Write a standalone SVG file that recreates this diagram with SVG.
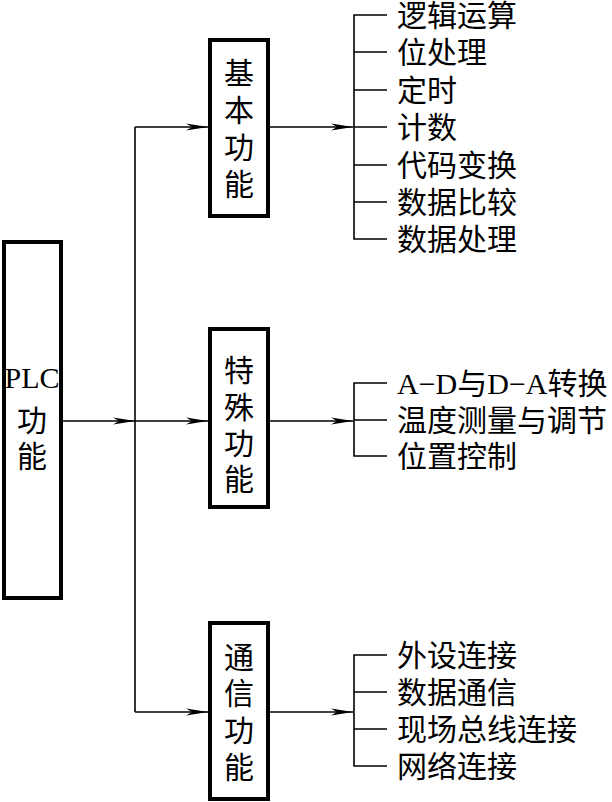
<svg xmlns="http://www.w3.org/2000/svg" width="612" height="802" viewBox="0 0 612 802">
<defs>
<style>
.box{fill:#fff;stroke:#000;stroke-width:4}
.ln{fill:none;stroke:#000;stroke-width:1.6}
.t{font-family:"Liberation Serif","Noto Sans CJK SC",serif;font-size:30px;fill:#000}
.c{text-anchor:middle}
</style>
<marker id="ar" markerUnits="userSpaceOnUse" markerWidth="24" markerHeight="10" refX="22" refY="4" orient="auto">
<path d="M0,0.5 L22,4 L0,7.5 L6,4 Z" fill="#000"/>
</marker>
</defs>
<rect width="612" height="802" fill="#fff"/>
<g id="connectors">
<line class="ln" x1="61" y1="421" x2="135" y2="421" marker-end="url(#ar)"/>
<line class="ln" x1="135" y1="127" x2="135" y2="712"/>
<line class="ln" x1="135" y1="127" x2="208" y2="127" marker-end="url(#ar)"/>
<line class="ln" x1="135" y1="421" x2="208" y2="421" marker-end="url(#ar)"/>
<line class="ln" x1="135" y1="712" x2="208" y2="712" marker-end="url(#ar)"/>
<line class="ln" x1="268" y1="127" x2="353" y2="127" marker-end="url(#ar)"/>
<line class="ln" x1="268" y1="421" x2="353" y2="421" marker-end="url(#ar)"/>
<line class="ln" x1="268" y1="712" x2="353" y2="712" marker-end="url(#ar)"/>
<path class="ln" d="M387,15 H354 V239 H387 M354,52 H387 M354,90 H387 M354,127 H387 M354,165 H387 M354,202 H387"/>
<path class="ln" d="M387,383 H354 V456 H387 M354,420 H387"/>
<path class="ln" d="M387,655 H354 V766 H387 M354,692 H387 M354,729 H387"/>
</g>
<g id="plc">
<rect class="box" x="4" y="242" width="57" height="356"/>
<text class="t c" x="32" y="388" font-size="31">PLC</text>
<text class="t c" x="32" y="431">功</text>
<text class="t c" x="32" y="467">能</text>
</g>
<g id="basic">
<rect class="box" x="210" y="40" width="58" height="176"/>
<text class="t c" x="239" y="84">基</text>
<text class="t c" x="239" y="121">本</text>
<text class="t c" x="239" y="158">功</text>
<text class="t c" x="239" y="195">能</text>
</g>
<g id="special">
<rect class="box" x="210" y="329" width="58" height="178"/>
<text class="t c" x="239" y="381">特</text>
<text class="t c" x="239" y="418">殊</text>
<text class="t c" x="239" y="454">功</text>
<text class="t c" x="239" y="490">能</text>
</g>
<g id="comm">
<rect class="box" x="210" y="623" width="58" height="176"/>
<text class="t c" x="239" y="668">通</text>
<text class="t c" x="239" y="704">信</text>
<text class="t c" x="239" y="741">功</text>
<text class="t c" x="239" y="778">能</text>
</g>
<g id="basic-items">
<text class="t" x="397" y="26">逻辑运算</text>
<text class="t" x="397" y="63">位处理</text>
<text class="t" x="397" y="101">定时</text>
<text class="t" x="397" y="138">计数</text>
<text class="t" x="397" y="176">代码变换</text>
<text class="t" x="397" y="213">数据比较</text>
<text class="t" x="397" y="250">数据处理</text>
</g>
<g id="special-items">
<text class="t" x="397" y="394">A−D与D−A转换</text>
<text class="t" x="397" y="431">温度测量与调节</text>
<text class="t" x="397" y="467">位置控制</text>
</g>
<g id="comm-items">
<text class="t" x="397" y="666">外设连接</text>
<text class="t" x="397" y="703">数据通信</text>
<text class="t" x="397" y="740">现场总线连接</text>
<text class="t" x="397" y="777">网络连接</text>
</g>
</svg>
